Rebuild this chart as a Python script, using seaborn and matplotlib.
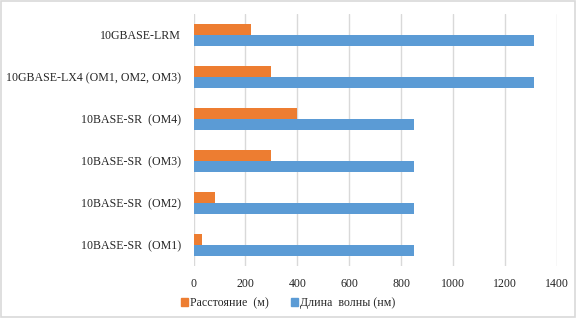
import pandas as pd
import matplotlib
matplotlib.use("Agg")
import matplotlib.pyplot as plt
import seaborn as sns
from matplotlib.patches import Rectangle

# данные (сверху вниз, как на графике)
standards = [
    "10GBASE-LRM",
    "10GBASE-LX4 (OM1, OM2, OM3)",
    "10BASE-SR  (OM4)",
    "10BASE-SR  (OM3)",
    "10BASE-SR  (OM2)",
    "10BASE-SR  (OM1)",
]
distance_m = [220, 300, 400, 300, 82, 33]
wavelength_nm = [1310, 1310, 850, 850, 850, 850]

series_names = ["Расстояние  (м)", "Длина  волны (нм)"]
colors = ["#ED7D31", "#5B9BD5"]

df = pd.DataFrame({
    "Standard": standards * 2,
    "Series": [series_names[0]] * len(standards) + [series_names[1]] * len(standards),
    "Value": distance_m + wavelength_nm,
})

sns.set_theme(style="white")
plt.rcParams["font.family"] = ["Liberation Serif", "DejaVu Serif"]
fs = 8.6

fig = plt.figure(figsize=(5.76, 3.18), dpi=100)
ax = fig.add_axes([0.336, 0.164, 0.631, 0.792])

sns.barplot(data=df, y="Standard", x="Value", hue="Series",
            order=standards, hue_order=series_names,
            palette=colors, width=0.54, gap=0, saturation=1,
            linewidth=0, orient="h", ax=ax)

ax.set_xlim(0, 1400)
ax.set_xticks(range(0, 1401, 200))
ax.set_xlabel("")
ax.set_ylabel("")
ax.grid(axis="x", color="#d9d9d9", linewidth=1)
ax.set_axisbelow(True)
for s in ax.spines.values():
    s.set_visible(False)
ax.tick_params(axis="both", length=0, labelsize=fs, colors="#262626")
ax.tick_params(axis="x", pad=9)
ax.tick_params(axis="y", pad=9)

ax.legend_.remove()
handles = [Rectangle((0, 0), 1, 1, color=c) for c in colors]
fig.legend(handles, series_names, loc="center", bbox_to_anchor=(0.5, 0.047),
           ncol=2, frameon=False, fontsize=fs, handlelength=0.6,
           handleheight=0.6, handletextpad=0.2, columnspacing=1.8,
           labelcolor="#262626")

# светло-серая рамка вокруг рисунка
fig.patches.append(Rectangle((0.002, 0.003), 0.996, 0.994, transform=fig.transFigure,
                             fill=False, edgecolor="#d9d9d9", linewidth=1.2))

fig.savefig("out.png", dpi=100)
plt.close(fig)
